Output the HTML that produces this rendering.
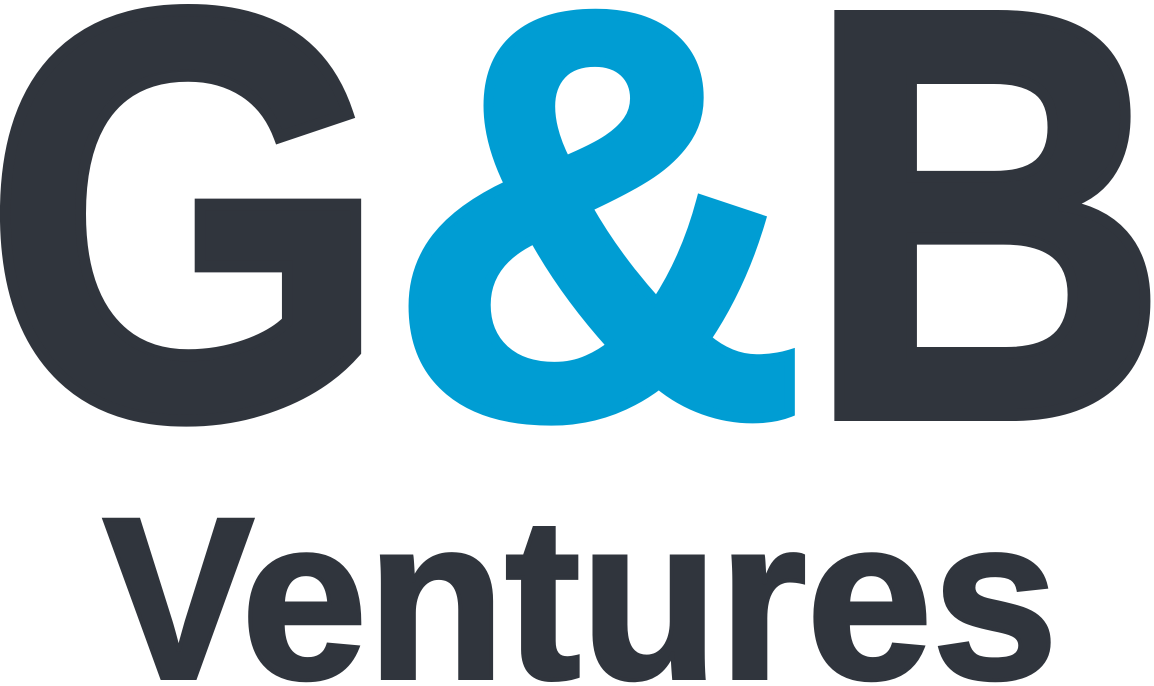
<!DOCTYPE html>
<html>
<head>
<meta charset="utf-8">
<style>
  html, body { margin: 0; padding: 0; background: #ffffff; }
  body { width: 1154px; height: 686px; overflow: hidden; }
  svg { display: block; }
  text { font-family: "Liberation Sans", sans-serif; font-weight: bold; }
</style>
</head>
<body>
<svg width="1154" height="686" viewBox="0 0 1154 686">
  <g>
    <text x="-16" y="415" font-size="580" fill="#30353d" stroke="#30353d" stroke-width="12" textLength="404" lengthAdjust="spacingAndGlyphs">G</text>
    <text x="388" y="415" font-size="580" fill="#009dd3" stroke="#009dd3" stroke-width="10" textLength="420" lengthAdjust="spacingAndGlyphs">&amp;</text>
    <text x="806" y="415" font-size="580" fill="#30353d" stroke="#30353d" stroke-width="12" textLength="362" lengthAdjust="spacingAndGlyphs">B</text>
  </g>
  <text x="103" y="678" font-size="230" fill="#30353d" stroke="#30353d" stroke-width="4" textLength="955" lengthAdjust="spacingAndGlyphs">Ventures</text>
</svg>
</body>
</html>
